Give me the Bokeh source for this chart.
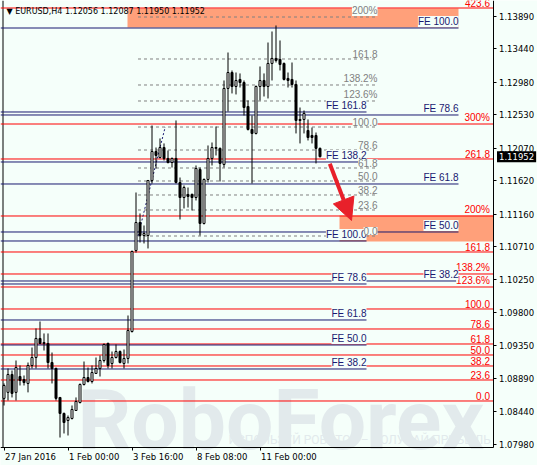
import numpy as np
from bokeh.plotting import figure
from bokeh.core.properties import value
from bokeh.models import (Range1d, FixedTicker, ColumnDataSource, LabelSet, Label,
                          Arrow, NormalHead)
from bokeh.embed import file_html
from bokeh.resources import INLINE

# ---------------- data (EURUSD H4) ----------------
opens = [1.08616, 1.08699, 1.08946, 1.08699, 1.08918, 1.08877, 1.08822, 1.09070, 1.09180, 1.09443,
         1.09374, 1.09374, 1.09111, 1.09029, 1.08629, 1.08408, 1.08311, 1.08339, 1.08449, 1.08559,
         1.08808, 1.08904, 1.08849, 1.08960, 1.09029, 1.09139, 1.09374, 1.09098, 1.09180, 1.09263,
         1.09098, 1.09167, 1.09539, 1.10657, 1.11043, 1.10864, 1.10864, 1.11623, 1.12023, 1.11940,
         1.12078, 1.11927, 1.11871, 1.11927, 1.11595, 1.11388, 1.11430, 1.11430, 1.11388, 1.11775,
         1.11030, 1.11637, 1.11927, 1.12066, 1.12066, 1.11844, 1.12893, 1.13113, 1.12920, 1.13017,
         1.12975, 1.12644, 1.12327, 1.12272, 1.12920, 1.13003, 1.12920, 1.13238, 1.13307, 1.13293,
         1.13238, 1.13031, 1.13017, 1.12948, 1.12465, 1.12465, 1.12313, 1.12244, 1.12244, 1.12066]
highs = [1.08822, 1.09029, 1.09001, 1.09139, 1.09070, 1.08932, 1.09111, 1.09318, 1.09581, 1.09677,
         1.09512, 1.09512, 1.09249, 1.09042, 1.08629, 1.08421, 1.08380, 1.08518, 1.08629, 1.08822,
         1.09125, 1.09042, 1.09070, 1.09180, 1.09208, 1.09374, 1.09387, 1.09263, 1.09360, 1.09277,
         1.09291, 1.09760, 1.10657, 1.11457, 1.11168, 1.11002, 1.11623, 1.12382, 1.12078, 1.12203,
         1.12134, 1.12037, 1.11940, 1.12451, 1.11664, 1.11554, 1.11526, 1.11444, 1.11830, 1.11802,
         1.11651, 1.12106, 1.12147, 1.12368, 1.12078, 1.13003, 1.13389, 1.13141, 1.13113, 1.13100,
         1.13003, 1.12727, 1.12520, 1.12934, 1.13196, 1.13100, 1.13527, 1.13679, 1.13762, 1.13555,
         1.13251, 1.13113, 1.13251, 1.13003, 1.12630, 1.12589, 1.12465, 1.12354, 1.12285, 1.12078]
lows = [1.08518, 1.08587, 1.08629, 1.08587, 1.08794, 1.08794, 1.08699, 1.09029, 1.09029, 1.09374,
        1.09277, 1.09029, 1.08822, 1.08587, 1.08076, 1.08132, 1.08104, 1.08325, 1.08449, 1.08546,
        1.08794, 1.08835, 1.08822, 1.08960, 1.08918, 1.09111, 1.09029, 1.09029, 1.09167, 1.09098,
        1.09029, 1.09098, 1.09525, 1.10629, 1.10767, 1.10754, 1.10685, 1.11582, 1.11789, 1.11927,
        1.11899, 1.11858, 1.11802, 1.11582, 1.11085, 1.11237, 1.11250, 1.11209, 1.11347, 1.10864,
        1.11016, 1.11595, 1.11830, 1.11968, 1.11609, 1.11802, 1.12575, 1.12824, 1.12810, 1.12906,
        1.12520, 1.12313, 1.11582, 1.12258, 1.12727, 1.12782, 1.12755, 1.13003, 1.13251, 1.13141,
        1.13003, 1.12906, 1.12906, 1.12272, 1.12134, 1.12272, 1.12175, 1.12134, 1.11858, 1.11940]
closes = [1.08794, 1.08946, 1.08685, 1.09042, 1.08863, 1.08835, 1.09070, 1.09180, 1.09443, 1.09374,
          1.09387, 1.09111, 1.09029, 1.08616, 1.08408, 1.08283, 1.08352, 1.08463, 1.08573, 1.08808,
          1.08904, 1.08849, 1.08973, 1.09029, 1.09139, 1.09360, 1.09070, 1.09180, 1.09263, 1.09111,
          1.09167, 1.09553, 1.10643, 1.11043, 1.10864, 1.10892, 1.11623, 1.12023, 1.11968, 1.12078,
          1.11927, 1.11871, 1.11927, 1.11595, 1.11388, 1.11526, 1.11402, 1.11388, 1.11789, 1.11030,
          1.11637, 1.11927, 1.12078, 1.12078, 1.11858, 1.12893, 1.13113, 1.12920, 1.13003, 1.12975,
          1.12630, 1.12327, 1.12272, 1.12920, 1.13003, 1.12920, 1.13238, 1.13307, 1.13279, 1.13224,
          1.13017, 1.13003, 1.12948, 1.12451, 1.12451, 1.12548, 1.12216, 1.12216, 1.12066, 1.11952]

time_tick_bars = [0, 16, 32, 48, 64]
time_tick_labels = ["27 Jan 2016", "1 Feb 00:00", "3 Feb 16:00", "8 Feb 08:00", "11 Feb 00:00"]
price_ticks = [1.13890, 1.13440, 1.12980, 1.12530, 1.12070, 1.11620, 1.11160,
               1.10710, 1.10250, 1.09800, 1.09350, 1.08890, 1.08440, 1.07980]
price_tick_labels = ["1.13890", "1.13440", "1.12980", "1.12530", "1.12070", "1.11620", "1.11160",
                     "1.10710", "1.10250", "1.09800", "1.09350", "1.08890", "1.08440", "1.07980"]

# red Fibonacci expansion levels
red_levels = [1.140031, 1.124024, 1.119195, 1.111329, 1.106362, 1.103326, 1.101532,
              1.098496, 1.095736, 1.093667, 1.092149, 1.090631, 1.088699, 1.085801]
red_texts = ["423.6", "300%", "261.8", "200%", "161.8", "138.2%", "123.6%",
             "100.0", "78.6", "61.8", "50.0", "38.2", "23.6", "0.0"]
# navy FE levels (right group)
fe_right_levels = [1.137271, 1.125266, 1.115745, 1.109121, 1.102360]
fe_right_texts = ["FE 100.0", "FE 78.6", "FE 61.8", "FE 50.0", "FE 38.2"]
# navy FE levels (left group)
fe_left_levels = [1.125680, 1.118781, 1.107880, 1.101946, 1.096978, 1.093529, 1.090217]
fe_left_texts = ["FE 161.8", "FE 138.2", "FE 100.0", "FE 78.6", "FE 61.8", "FE 50.0", "FE 38.2"]
# gray retracement levels
gray_levels = [1.138789, 1.132994, 1.129406, 1.127198, 1.123610, 1.120436,
               1.117953, 1.116159, 1.114227, 1.112157, 1.108569]
gray_texts = ["200%", "161.8", "138.2%", "123.6%", "100.0", "78.6",
              "61.8", "50.0", "38.2", "23.6", "0.0"]
# retracement anchor diagonal
anchor_bars = [33.5, 40.3]
anchor_prices = [1.108569, 1.123610]
# target zones
zone_left = [30.875, 83.875]
zone_right = [113.625, 122.25]
zone_top = [1.139962, 1.111398]
zone_bottom = [1.137340, 1.107810]
# arrow
arrow_bars = [81.45, 86.875]
arrow_prices = [1.118532, 1.110708]
last_price_text = "1.11952"

# ---------------- styling ----------------
BG = "#F5FFFA"
RED = "#FF0000"
NAVY = "#191970"
GRAY = "#808080"
WM = "#E2EAEC"
AXIS_FONT = "DejaVu Sans"
LABEL_FONT = "Liberation Sans"

# bar k sits at pixel 3.5 + 4k ; price scale at the right edge of the chart area
x_lo, x_axis, x_hi = -0.875, 122.25, 133.375
y_lo, y_bot, y_top = 1.076900, 1.079315, 1.141066

p = figure(width=537, height=465, output_backend="svg", toolbar_location=None,
           x_range=Range1d(x_lo, x_hi), y_range=Range1d(y_lo, y_top),
           y_axis_location="right",
           min_border_left=0, min_border_top=0, min_border_right=0, min_border_bottom=0,
           background_fill_color=BG, border_fill_color=BG)
p.grid.visible = False
p.outline_line_color = None

# watermark
p.add_layout(Label(x=18.375, y=1.083110, text="RoboForex", text_font="Roboto",
                   text_font_size="84px", text_font_style="bold", text_color=WM,
                   text_baseline="alphabetic", level="underlay"))
p.add_layout(Label(x=56.125, y=1.080350, text="ИСПОЛЬЗУЙ РОБОТОВ – ПОЛУЧАЙ ПРИБЫЛЬ",
                   text_font="Roboto", text_font_size="12px", text_color=WM,
                   text_baseline="alphabetic", level="underlay"))

# zones
p.quad(left=zone_left, right=zone_right, top=zone_top, bottom=zone_bottom,
       fill_color="#FFA07A", line_color=None, level="underlay")

# left frame edge
p.segment(x0=-0.25, x1=-0.25, y0=y_bot, y1=y_top, line_color="black", line_width=1)

# horizontal levels
p.segment(x0=x_lo, x1=x_axis, y0=red_levels, y1=red_levels, line_color=RED, line_width=1)
p.segment(x0=x_lo, x1=113.625, y0=fe_right_levels, y1=fe_right_levels, line_color=NAVY, line_width=1)
p.segment(x0=x_lo, x1=90.625, y0=fe_left_levels, y1=fe_left_levels, line_color=NAVY, line_width=1)
p.segment(x0=33.5, x1=93.375, y0=gray_levels, y1=gray_levels, line_color=GRAY,
          line_width=1, line_dash="3 3")
p.line(anchor_bars, anchor_prices, line_color=NAVY, line_width=1, line_dash="2 2")

# candles
bars = np.arange(len(opens))
o = np.array(opens); c = np.array(closes)
src = ColumnDataSource(dict(x=bars, hi=highs, lo=lows,
                            top=np.maximum(o, c), bot=np.minimum(o, c),
                            fill=np.where(c >= o, "white", "black")))
p.segment(x0="x", x1="x", y0="lo", y1="hi", source=src, line_color="black", line_width=1)
p.vbar(x="x", width=0.5, top="top", bottom="bot", source=src,
       fill_color="fill", line_color="black", line_width=1)

# level labels
def add_labels(xpos, levels, texts, color, xoff):
    s = ColumnDataSource(dict(x=[xpos] * len(levels), y=levels, t=texts))
    p.add_layout(LabelSet(x="x", y="y", text="t", source=s, x_offset=xoff, y_offset=1,
                          text_align="right", text_baseline="bottom", text_color=color,
                          text_font=value(LABEL_FONT), text_font_size="10px",
                          background_fill_color=BG))

add_labels(x_axis, red_levels, red_texts, RED, -3)
add_labels(113.625, fe_right_levels, fe_right_texts, NAVY, 0)
add_labels(90.625, fe_left_levels, fe_left_texts, NAVY, 0)
add_labels(93.375, gray_levels, gray_texts, GRAY, 0)

# arrow
p.add_layout(Arrow(end=NormalHead(size=22, fill_color="#E8202A", line_color="#E8202A"),
                   x_start=arrow_bars[0], y_start=arrow_prices[0],
                   x_end=arrow_bars[1], y_end=arrow_prices[1],
                   line_color="#E8202A", line_width=4))

# title
p.add_layout(Label(x=0.625, y=1.138996, text="▼ EURUSD,H4 1.12056 1.12087 1.11950 1.11952",
                   text_font=AXIS_FONT, text_font_size="8px", text_color="black",
                   text_baseline="bottom"))

# axes, drawn at the edges of the chart area
p.yaxis.fixed_location = x_axis
p.yaxis.bounds = (y_bot, y_top)
p.yaxis.ticker = FixedTicker(ticks=price_ticks)
p.yaxis.major_label_overrides = dict(zip(price_ticks, price_tick_labels))
p.xaxis.fixed_location = y_bot
p.xaxis.bounds = (x_lo, x_axis)
p.xaxis.ticker = FixedTicker(ticks=time_tick_bars)
p.xaxis.major_label_overrides = {t: "" for t in time_tick_bars}
for ax in (p.xaxis, p.yaxis):
    ax.major_label_text_font = AXIS_FONT
    ax.major_label_text_font_size = "8.5px"
    ax.major_label_text_color = "black"
    ax.axis_line_color = "black"
    ax.major_tick_line_color = "black"
    ax.major_tick_in = 0
    ax.major_tick_out = 3
    ax.minor_tick_line_color = None
    ax.major_label_standoff = 3

# current price tag on the price scale
p.add_layout(Label(x=x_axis, y=closes[-1], x_offset=4, text=last_price_text, text_font=AXIS_FONT,
                   text_font_size="8.5px", text_color="white", text_baseline="middle",
                   text_align="left", background_fill_color="black", padding=2,
                   level="overlay"))

# time labels, left-aligned at their ticks (MT4 style)
tsrc = ColumnDataSource(dict(x=time_tick_bars, y=[y_bot] * len(time_tick_bars),
                             t=time_tick_labels))
p.add_layout(LabelSet(x="x", y="y", text="t", source=tsrc, x_offset=1, y_offset=-4,
                      text_align="left", text_baseline="top", text_font=value(AXIS_FONT),
                      text_font_size="8.5px", text_color="black", level="overlay"))

open("out.html", "w").write(file_html(p, INLINE))
